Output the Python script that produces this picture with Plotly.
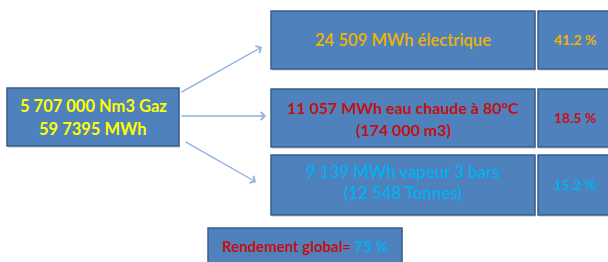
import plotly.graph_objects as go

# ---- data ----
source_lines = ["5 707 000 Nm3 Gaz", "59 7395 MWh"]
output_labels = [
    ["24 509 MWh électrique"],
    ["11 057 MWh eau chaude à 80°C", "(174 000 m3)"],
    ["9 139 MWh vapeur 3 bars", "(12 548 Tonnes)"],
]
output_pcts = [41.2, 18.5, 15.2]
output_colors = ["#F0B400", "#C41010", "#00B0F0"]
global_label = "Rendement global="
global_eff = 75

FILL = "#4F81BD"
EDGE = "#385D8A"
FONT = "Lato"

fig = go.Figure()

def box(x0, y0, x1, y1):
    fig.add_shape(type="rect", x0=x0 + 1, y0=y0 + 2, x1=x1 + 1, y1=y1 + 2,
                  line=dict(width=0), fillcolor="rgba(0,0,0,0.12)", layer="below")
    fig.add_shape(type="rect", x0=x0, y0=y0, x1=x1, y1=y1,
                  line=dict(color=EDGE, width=1.5), fillcolor=FILL, layer="below")

def text(x, y, s, color, size, weight=700):
    fig.add_annotation(x=x, y=y, text=s, showarrow=False, xref="x", yref="y",
                       font=dict(family=FONT, size=size, color=color, weight=weight),
                       xanchor="center", yanchor="middle")

def lines(x, cy, items, gap, color, size, weight=700):
    n = len(items)
    for i, s in enumerate(items):
        text(x, cy + (i - (n - 1) / 2) * gap, s, color, size, weight)

# source box
box(7, 88, 179, 146)
lines(93, 117, source_lines, 23, "#FFFF00", 16.5)

# output boxes
rows = [(11, 69), (89, 147), (155, 215)]
styles = [(16.6, 600, 22, 0), (16, 700, 22, 0), (16.8, 600, 21, -3.5)]
for (y0, y1), lab, pct, col, (sz, wt, gap, dy) in zip(rows, output_labels, output_pcts,
                                                       output_colors, styles):
    box(271, y0, 535, y1)
    box(538, y0, 615, y1)
    cy = (y0 + y1) / 2
    lines(403, cy + dy, lab, gap, col, sz, wt)
    text(575, cy - 1, "%.1f %%" % pct, col, 14)

# global efficiency box
box(208, 228, 402, 270)
text(305, 246, "%s <span style='color:#00B0F0'>%d %%</span>" % (global_label, global_eff),
     "#C41010", 15)

# arrows
arrows = [((180, 93), (262, 47)), ((180, 116), (266, 116)), ((184, 141), (256, 182))]
for (tx, ty), (hx, hy) in arrows:
    fig.add_annotation(x=hx, y=hy, ax=tx, ay=ty, xref="x", yref="y", axref="x", ayref="y",
                       text="", showarrow=True, arrowhead=4, arrowsize=1.2, arrowwidth=1.3,
                       arrowcolor="#8DB0DE")

fig.update_xaxes(range=[0, 608], visible=False, fixedrange=True)
fig.update_yaxes(range=[262, 0], visible=False, fixedrange=True)
fig.update_layout(width=608, height=262, margin=dict(l=0, r=0, t=0, b=0),
                  plot_bgcolor="white", paper_bgcolor="white", showlegend=False)

fig.write_html("out.html", config={"displayModeBar": False},
               post_script="document.body.style.margin='0';document.body.style.overflow='hidden';")
